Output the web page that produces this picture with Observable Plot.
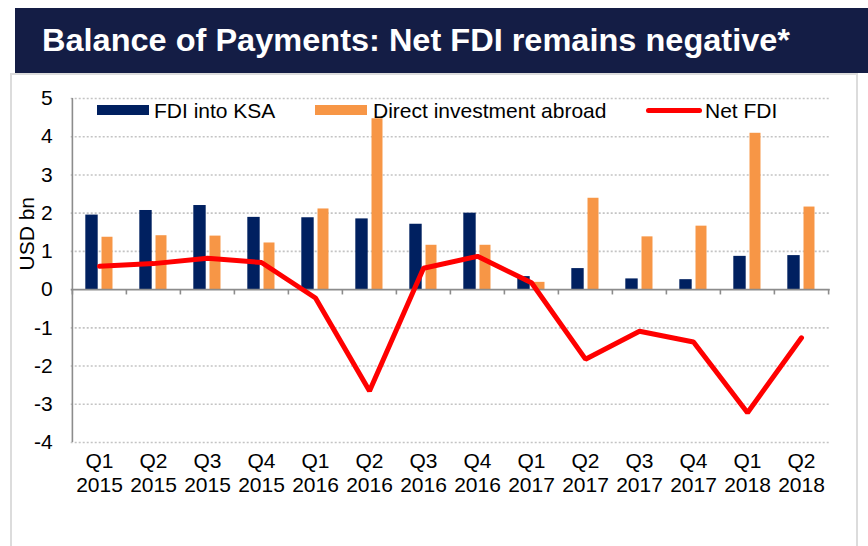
<!DOCTYPE html>
<html>
<head>
<meta charset="utf-8">
<script src="https://cdn.jsdelivr.net/npm/d3@7"></script>
<script src="https://cdn.jsdelivr.net/npm/@observablehq/plot@0.6"></script>
<style>
  html, body { margin: 0; padding: 0; background: #fff; }
  body { width: 868px; height: 546px; position: relative; overflow: hidden; font-family: Arial, "Liberation Sans", sans-serif; }
  #titlebar { position: absolute; left: 15px; top: 8px; width: 853px; height: 65px; background: #141d45; }
  #title { position: absolute; left: 42px; top: 25px; color: #fff; font-weight: bold; font-size: 30.5px; line-height: 1; white-space: nowrap; transform-origin: 0 0; }
  #panel { position: absolute; left: 10px; top: 73px; width: 844px; height: 480px; border: 2px solid #dcdcdc; background: #fff; }
  #chart { position: absolute; left: 0; top: 0; }
  .leg { position: absolute; font-size: 21px; color: #000; line-height: 1; white-space: nowrap; }
  .sw { position: absolute; }
</style>
</head>
<body>
<div id="titlebar"></div>
<div id="title">Balance of Payments: Net FDI remains negative*</div>
<div id="panel"></div>
<div id="chart"></div>
<div class="sw" style="left:97px;top:105px;width:52px;height:10px;background:#002060"></div>
<div class="leg" style="left:154px;top:100px">FDI into KSA</div>
<div class="sw" style="left:315px;top:105px;width:52px;height:10px;background:#f79646"></div>
<div class="leg" style="left:373px;top:100px">Direct investment abroad</div>
<div class="sw" style="left:646px;top:107.5px;width:56px;height:5px;border-radius:3px;background:#ff0000"></div>
<div class="leg" style="left:705px;top:100px">Net FDI</div>
<script>
const quarters = ["Q1 2015","Q2 2015","Q3 2015","Q4 2015","Q1 2016","Q2 2016","Q3 2016","Q4 2016","Q1 2017","Q2 2017","Q3 2017","Q4 2017","Q1 2018","Q2 2018"];
const fdiIntoKSA = [1.95, 2.07, 2.20, 1.89, 1.88, 1.85, 1.71, 2.00, 0.34, 0.55, 0.28, 0.26, 0.87, 0.89];
const directAbroad = [1.37, 1.41, 1.40, 1.22, 2.11, 4.47, 1.16, 1.16, 0.19, 2.39, 1.38, 1.66, 4.09, 2.16];
const netFDI = [0.61, 0.68, 0.82, 0.71, -0.22, -2.65, 0.56, 0.87, 0.18, -1.82, -1.09, -1.37, -3.22, -1.26];
const yTicks = [-4, -3, -2, -1, 0, 1, 2, 3, 4, 5];

// fit the title to the width it has in the reference
const titleEl = document.getElementById("title");
const tw = titleEl.getBoundingClientRect().width;
if (tw > 0) titleEl.style.transform = `scaleX(${748 / tw})`;

const rows = quarters.map((q, i) => ({q, into: fdiIntoKSA[i], abroad: directAbroad[i], net: netFDI[i]}));
const halfBand = (829.7 - 70.7) / quarters.length / 2;

const chart = Plot.plot({
  width: 868,
  height: 546,
  marginLeft: 70.7,
  marginRight: 38.3,
  marginTop: 98,
  marginBottom: 104,
  style: {fontFamily: "Arial, 'Liberation Sans', sans-serif", fontSize: "21px", color: "#000", background: "transparent", overflow: "visible"},
  x: {type: "band", domain: quarters, padding: 0, axis: null},
  y: {domain: [-4, 5], axis: null},
  marks: [
    Plot.gridY(yTicks.filter(d => d !== 0), {stroke: "#c4c4c4", strokeOpacity: 1, strokeWidth: 1.6, strokeDasharray: "2,2"}),
    Plot.barY(rows, {x: "q", y: "into", fill: "#002060", insetLeft: halfBand - 13.8, insetRight: halfBand + 1.2}),
    Plot.barY(rows, {x: "q", y: "abroad", fill: "#f79646", insetLeft: halfBand + 2.4, insetRight: halfBand - 13.6}),
    Plot.ruleY([0], {stroke: "#8c8c8c", strokeWidth: 1.6}),
    Plot.ruleX([quarters[0]], {x: d => d, y1: -4, y2: 5, dx: -halfBand, stroke: "#8c8c8c", strokeWidth: 1.6}),
    Plot.ruleX(quarters, {x: d => d, y1: 0, y2: -0.14, dx: -halfBand, stroke: "#8c8c8c", strokeWidth: 1.6}),
    Plot.ruleX([quarters[quarters.length - 1]], {x: d => d, y1: 0, y2: -0.14, dx: halfBand, stroke: "#8c8c8c", strokeWidth: 1.6}),
    Plot.line(rows, {x: "q", y: "net", stroke: "#ff0000", strokeWidth: 5, strokeLinejoin: "miter", strokeLinecap: "round"}),
    Plot.text(yTicks, {y: d => d, text: d => String(d), frameAnchor: "left", dx: -18.5, textAnchor: "end", fontSize: 21, fill: "#000"}),
    Plot.text(["USD bn"], {text: d => d, frameAnchor: "left", dx: -43.5, rotate: -90, fontSize: 21, fill: "#000"}),
    Plot.text(quarters, {x: d => d, text: d => d.split(" ")[0], frameAnchor: "bottom", dy: 25, fontSize: 21, fill: "#000"}),
    Plot.text(quarters, {x: d => d, text: d => d.split(" ")[1], frameAnchor: "bottom", dy: 49, fontSize: 21, fill: "#000"})
  ]
});
document.getElementById("chart").appendChild(chart);
</script>
</body>
</html>
